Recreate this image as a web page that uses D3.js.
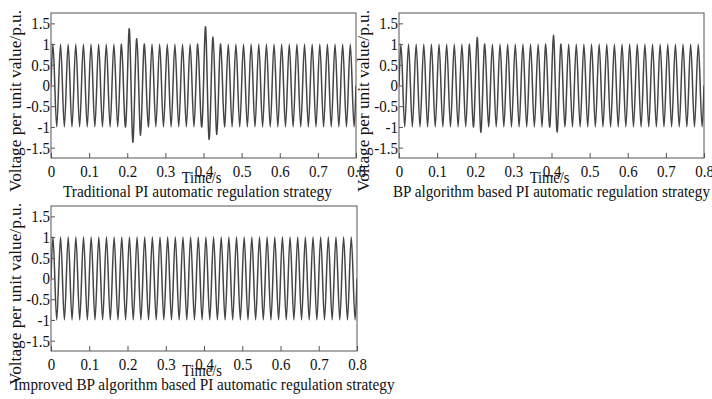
<!DOCTYPE html>
<html>
<head>
<meta charset="utf-8">
<script src="https://cdn.jsdelivr.net/npm/d3@7"></script>
<style>
  html, body { margin: 0; padding: 0; background: #fff; }
  svg { display: block; }
  text { font-family: "Liberation Serif", "Times New Roman", serif; fill: #111; }
</style>
</head>
<body>
<div id="chart"></div>
<script>
// time axis and voltage axis ticks
const timeTicks = [0, 0.1, 0.2, 0.3, 0.4, 0.5, 0.6, 0.7, 0.8];
const voltTicks = [1.5, 1, 0.5, 0, -0.5, -1, -1.5];

const yLabel = 'Voltage per unit value/p.u.';
const xLabel = 'Time/s';
const captions = [
  'Traditional PI automatic regulation strategy',
  'BP algorithm based PI automatic regulation strategy',
  'Improved BP algorithm based PI automatic regulation strategy'
];

// 50 Hz signal, half-cycle peak value (p.u.), one per 0.01 s
const peaksTraditional = [
  1, -1, 1, -1, 1, -1, 1, -1, 1, -1, 1, -1, 1, -1, 1, -1, 1, -1, 1, -1,
  1.37, -1.37, 1.13, -1.2, 1, -1, 1, -1, 1, -1, 1, -1, 1, -1, 1, -1, 1, -1, 1, -1,
  1.42, -1.3, 1.17, -1.18, 1, -1, 1, -1, 1, -1, 1, -1, 1, -1, 1, -1, 1, -1, 1, -1,
  1, -1, 1, -1, 1, -1, 1, -1, 1, -1, 1, -1, 1, -1, 1, -1, 1, -1, 1, -1
];
const peaksBP = [
  1, -1, 1, -1, 1, -1, 1, -1, 1, -1, 1, -1, 1, -1, 1, -1, 1, -1, 1, -1,
  1.16, -1.13, 1, -1, 1, -1, 1, -1, 1, -1, 1, -1, 1, -1, 1, -1, 1, -1, 1, -1,
  1.21, -1.12, 1, -1, 1, -1, 1, -1, 1, -1, 1, -1, 1, -1, 1, -1, 1, -1, 1, -1,
  1, -1, 1, -1, 1, -1, 1, -1, 1, -1, 1, -1, 1, -1, 1, -1, 1, -1, 1, -1
];
const peaksImproved = [
  1, -1, 1, -1, 1, -1, 1, -1, 1, -1, 1, -1, 1, -1, 1, -1, 1, -1, 1, -1,
  1, -1, 1, -1, 1, -1, 1, -1, 1, -1, 1, -1, 1, -1, 1, -1, 1, -1, 1, -1,
  1, -1, 1, -1, 1, -1, 1, -1, 1, -1, 1, -1, 1, -1, 1, -1, 1, -1, 1, -1,
  1, -1, 1, -1, 1, -1, 1, -1, 1, -1, 1, -1, 1, -1, 1, -1, 1, -1, 1, -1
];
const halfCycle = 0.01;

const width = 712, height = 399;

// panel frames in page pixels
const panels = [
  { x0: 51, x1: 356, y0: 13, y1: 158, peaks: peaksTraditional, caption: captions[0], capDx: -6, capLen: 269 },
  { x0: 399, x1: 704, y0: 13, y1: 158, peaks: peaksBP, caption: captions[1], capDx: 0, capLen: 317 },
  { x0: 51, x1: 357, y0: 206, y1: 351, peaks: peaksImproved, caption: captions[2], capDx: 0, capLen: 381 }
];

const svg = d3.select('#chart').append('svg')
  .attr('width', width)
  .attr('height', height);

// narrow the serif glyphs a bit, the source font is condensed
function squeeze(sel, k) {
  sel.each(function () {
    const w = this.getComputedTextLength();
    d3.select(this).attr('textLength', w * k).attr('lengthAdjust', 'spacingAndGlyphs');
  });
}

panels.forEach((p, i) => {
  const xScale = d3.scaleLinear().domain([0, 0.8]).range([p.x0, p.x1]);
  const yScale = d3.scaleLinear().domain([-1.75, 1.75]).range([p.y1, p.y0]);

  const g = svg.append('g').attr('class', 'panel');

  // zero crossings and half-cycle peaks
  const pts = [];
  p.peaks.forEach((v, k) => {
    pts.push([k * halfCycle, 0]);
    pts.push([k * halfCycle + halfCycle / 2, v]);
  });
  pts.push([p.peaks.length * halfCycle, 0]);

  g.append('clipPath').attr('id', 'clip' + i)
    .append('rect')
    .attr('x', p.x0).attr('y', p.y0)
    .attr('width', p.x1 - p.x0).attr('height', p.y1 - p.y0);

  const line = d3.line()
    .x(d => xScale(d[0]))
    .y(d => yScale(d[1]))
    .curve(d3.curveNatural);

  g.append('path')
    .attr('clip-path', 'url(#clip' + i + ')')
    .attr('d', line(pts))
    .style('fill', 'none')
    .style('stroke', '#444')
    .style('stroke-width', 1.5);

  // axes, ticks pointing inward
  const xAxis = g.append('g')
    .attr('transform', 'translate(0,' + p.y1 + ')')
    .call(d3.axisBottom(xScale)
      .tickValues(timeTicks)
      .tickSizeInner(-5).tickSizeOuter(0)
      .tickPadding(7)
      .tickFormat(d => String(d)));
  const yAxis = g.append('g')
    .attr('transform', 'translate(' + p.x0 + ',0)')
    .call(d3.axisLeft(yScale)
      .tickValues(voltTicks)
      .tickSizeInner(-4).tickSizeOuter(0)
      .tickPadding(1)
      .tickFormat(d => String(d)));

  [xAxis, yAxis].forEach(a => {
    a.select('.domain').remove();
    a.selectAll('line').style('stroke', '#555').style('stroke-width', 1);
    a.selectAll('text')
      .style('font-size', '17px')
      .style('font-family', '"Liberation Serif", serif')
      .attr('fill', '#111');
  });
  squeeze(xAxis.selectAll('text'), 0.88);
  squeeze(yAxis.selectAll('text'), 0.88);

  g.append('rect')
    .attr('x', p.x0).attr('y', p.y0)
    .attr('width', p.x1 - p.x0).attr('height', p.y1 - p.y0)
    .style('fill', 'none')
    .style('stroke', '#555')
    .style('stroke-width', 1);

  const cx = (p.x0 + p.x1) / 2;

  g.append('text')
    .attr('x', cx - 2)
    .attr('y', p.y1 + 25)
    .attr('text-anchor', 'middle')
    .style('font-size', '17px')
    .text(xLabel)
    .call(squeeze, 0.85);

  g.append('text')
    .attr('x', cx + p.capDx)
    .attr('y', p.y1 + 39)
    .attr('text-anchor', 'middle')
    .style('font-size', '17px')
    .text(p.caption)
    .attr('textLength', p.capLen)
    .attr('lengthAdjust', 'spacingAndGlyphs');

  g.append('text')
    .attr('transform', 'translate(' + (p.x0 - 30) + ',' + (p.y0 + 88) + ') rotate(-90)')
    .attr('text-anchor', 'middle')
    .style('font-size', '17px')
    .text(yLabel)
    .attr('textLength', 182)
    .attr('lengthAdjust', 'spacingAndGlyphs');
});
</script>
</body>
</html>
